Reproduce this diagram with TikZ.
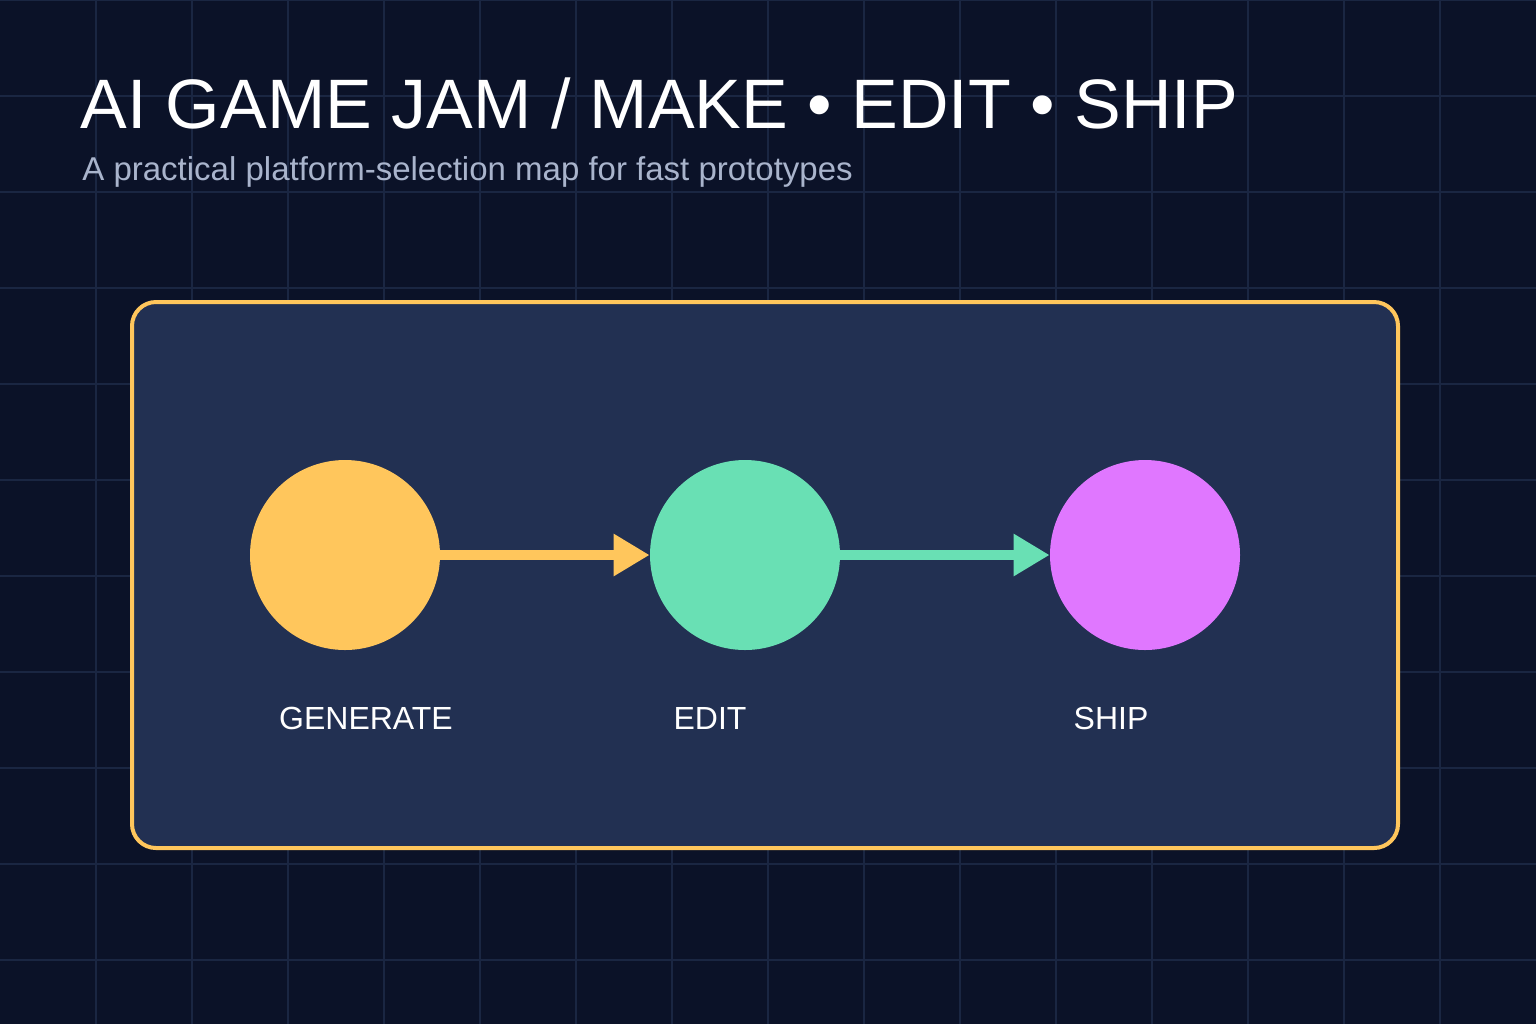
\documentclass[tikz,border=0pt]{standalone}
\usepackage{fontspec}
\setmainfont{Liberation Sans}
\usetikzlibrary{arrows.meta}
\definecolor{bg}{HTML}{0B1228}
\definecolor{gridc}{HTML}{1A2642}
\definecolor{panel}{HTML}{223052}
\definecolor{gold}{HTML}{FFC65C}
\definecolor{mint}{HTML}{69E0B4}
\definecolor{pink}{HTML}{E077FF}
\definecolor{sub}{HTML}{A9B4CC}
\begin{document}
\begin{tikzpicture}[x=0.5pt,y=-0.5pt,
  stage/.style={circle,minimum size=95pt,inner sep=0pt},
  lbl/.style={text=white,font=\fontsize{16}{18}\selectfont,anchor=center},
  conn/.style={line width=5pt,-{Triangle[length=18pt,width=20pt]}}]
\fill[bg] (0,0) rectangle (1536,1024);
\useasboundingbox (0,0) rectangle (1536,1024);
\foreach \i in {96,192,...,1440} \draw[gridc,line width=1pt] (\i,0) -- (\i,1024);
\foreach \j in {0,96,...,1000} \draw[gridc,line width=1pt] (0,\j) -- (1536,\j);
\node[anchor=base west,text=white,font=\fontsize{35}{40}\selectfont,inner sep=0pt] (title) at (80,128) {AI GAME JAM / MAKE • EDIT • SHIP};
\node[anchor=base west,text=sub,font=\fontsize{16.5}{19}\selectfont,inner sep=0pt] (subtitle) at (82,180) {A practical platform-selection map for fast prototypes};
\draw[gold,fill=panel,line width=2pt,rounded corners=12pt] (132,302) rectangle (1398,848);
\node[stage,fill=gold] (gen) at (345,555) {};
\node[stage,fill=mint] (edit) at (745,555) {};
\node[stage,fill=pink] (ship) at (1145,555) {};
\draw[conn,gold] (gen.east) -- (edit.west);
\draw[conn,mint] (edit.east) -- (ship.west);
\node[lbl] (l1) at (366,718) {GENERATE};
\node[lbl] (l2) at (710,718) {EDIT};
\node[lbl] (l3) at (1111,718) {SHIP};
\end{tikzpicture}
\end{document}
